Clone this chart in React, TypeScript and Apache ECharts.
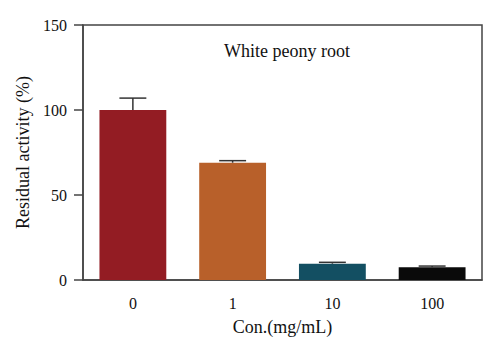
import React, { useEffect, useRef } from "react";
import * as echarts from "echarts";

const categories = ["0", "1", "10", "100"];
const values = [100, 69, 9.6, 7.5];
const errorTops = [107, 70.2, 10.4, 8.2];
const barColors = ["#931C23", "#B8602A", "#134F62", "#0A0A0A"];
const yTicks = { min: 0, max: 150, interval: 50 };

const FONT = "'Liberation Serif', 'DejaVu Serif', serif";

export default function App() {
  const ref = useRef<HTMLDivElement>(null);
  useEffect(() => {
    const chart = echarts.init(ref.current!, undefined, { renderer: "svg" });
    chart.setOption({
      animation: false,
      backgroundColor: "#fff",
      title: {
        text: "White peony root",
        left: 282,
        top: 37,
        textAlign: "center",
        textStyle: { fontFamily: FONT, fontSize: 18, fontWeight: "normal", color: "#111" },
      },
      grid: {
        left: 83,
        right: 18,
        top: 25,
        bottom: 75,
        show: true,
        borderColor: "#444",
        borderWidth: 1.5,
        backgroundColor: "transparent",
      },
      xAxis: {
        type: "category",
        data: categories,
        name: "Con.(mg/mL)",
        nameLocation: "middle",
        nameGap: 38,
        nameTextStyle: { fontFamily: FONT, fontSize: 18, color: "#111" },
        axisLine: { lineStyle: { color: "#444", width: 1.5 } },
        axisTick: { alignWithLabel: true, length: 9, lineStyle: { color: "#444", width: 1.5 } },
        axisLabel: { fontFamily: FONT, fontSize: 16, color: "#111", margin: 15 },
      },
      yAxis: {
        type: "value",
        min: yTicks.min,
        max: yTicks.max,
        interval: yTicks.interval,
        name: "Residual activity (%)",
        nameLocation: "middle",
        nameGap: 47,
        nameTextStyle: { fontFamily: FONT, fontSize: 18, color: "#111" },
        splitLine: { show: false },
        axisLine: { show: true, lineStyle: { color: "#444", width: 1.5 } },
        axisTick: { show: true, length: 9, lineStyle: { color: "#444", width: 1.5 } },
        axisLabel: { fontFamily: FONT, fontSize: 16, color: "#111", margin: 16 },
      },
      series: [
        {
          type: "bar",
          barWidth: "67%",
          data: values.map((v, i) => ({ value: v, itemStyle: { color: barColors[i] } })),
          z: 2,
        },
        {
          type: "custom",
          z: 3,
          data: values.map((v, i) => [i, v, errorTops[i]]),
          renderItem: (params: any, api: any) => {
            const idx = api.value(0);
            const base = api.coord([idx, api.value(1)]);
            const top = api.coord([idx, api.value(2)]);
            const band = api.size([1, 0])[0];
            const half = band * 0.135;
            const style = { stroke: "#333", lineWidth: 1.5 };
            return {
              type: "group",
              children: [
                { type: "line", shape: { x1: base[0], y1: base[1], x2: top[0], y2: top[1] }, style },
                { type: "line", shape: { x1: top[0] - half, y1: top[1], x2: top[0] + half, y2: top[1] }, style },
              ],
            };
          },
        },
      ],
    });
    return () => chart.dispose();
  }, []);
  return <div ref={ref} style={{ width: 500, height: 355, margin: -8 }} />;
}
